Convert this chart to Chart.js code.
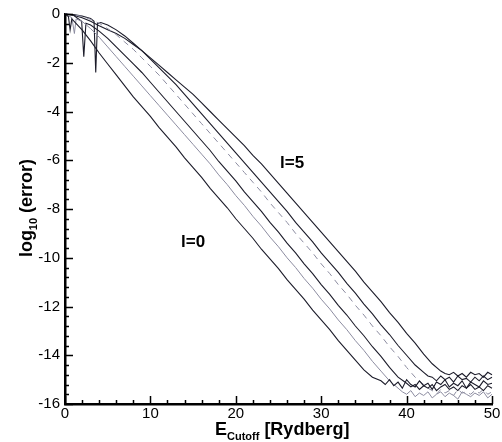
<!DOCTYPE html>
<html>
<head>
<meta charset="utf-8">
<script src="https://cdn.jsdelivr.net/npm/chart.js@4.4.1/dist/chart.umd.min.js"></script>
<style>
  html, body { margin: 0; padding: 0; background: #fff; }
  #wrap { width: 502px; height: 442px; }
</style>
</head>
<body>
<div id="wrap"><canvas id="errChart" width="502" height="442"></canvas></div>
<script>
// error curves, one per angular momentum l: [E_cutoff, log10(error)]
const curveL0 = [[0,0],[0.4,-0.1],[0.6,-0.65],[0.8,-0.2],[2,-0.65],[3,-1.1],[4,-1.6],[5,-2.05],[6,-2.5],[7,-2.95],[8,-3.4],[9,-3.8],[10,-4.2],[11,-4.65],[12,-5.05],[13,-5.45],[14,-5.9],[15,-6.3],[16,-6.7],[17,-7.15],[18,-7.55],[19,-7.95],[20,-8.4],[21,-8.8],[22,-9.2],[23,-9.65],[24,-10.05],[25,-10.45],[26,-10.9],[27,-11.3],[28,-11.7],[29,-12.15],[30,-12.55],[31,-12.95],[32,-13.4],[33,-13.8],[34,-14.2],[35,-14.6],[36,-14.9],[37,-15.05],
  [37.5,-15.2],[38,-15.0],[38.5,-15.25],[39,-15.1],[39.5,-15.35],[40,-15.0],[40.5,-15.2],[41,-15.3],[41.5,-15.05],[42,-15.25],[42.5,-15.15],[43,-15.4],[43.5,-15.1],[44,-15.2],[44.5,-15.0],[45,-15.3],[45.5,-15.15],[46,-15.25],[46.5,-15.05],[47,-15.35],[47.5,-15.1],[48,-15.2],[48.5,-15.3],[49,-15.05],[49.5,-15.2],[50,-15.15]];
const curveL1 = [[0,0],[0.8,-0.15],[1.1,-0.8],[1.3,-0.2],[2,-0.3],[3,-0.6],[4,-0.95],[5,-1.35],[6,-1.75],[7,-2.15],[8,-2.55],[9,-2.95],[10,-3.35],[11,-3.75],[12,-4.15],[13,-4.55],[14,-4.95],[15,-5.35],[16,-5.75],[17,-6.15],[18,-6.6],[19,-7.0],[20,-7.45],[21,-7.85],[22,-8.3],[23,-8.7],[24,-9.15],[25,-9.55],[26,-10.0],[27,-10.4],[28,-10.85],[29,-11.25],[30,-11.7],[31,-12.1],[32,-12.55],[33,-12.95],[34,-13.4],[35,-13.8],[36,-14.25],[37,-14.65],[38,-15.05],[39,-15.35],[39.5,-15.5],[40,-15.6],
  [40.5,-15.45],[41,-15.7],[41.5,-15.55],[42,-15.65],[42.5,-15.5],[43,-15.75],[43.5,-15.6],[44,-15.5],[44.5,-15.7],[45,-15.55],[45.5,-15.65],[46,-15.8],[46.5,-15.5],[47,-15.6],[47.5,-15.7],[48,-15.55],[48.5,-15.65],[49,-15.5],[49.5,-15.75],[50,-15.6]];
const curveL2 = [[0,0],[1,-0.05],[1.95,-0.3],[2.2,-1.75],[2.45,-0.38],[3,-0.45],[4,-0.7],[5,-1.0],[6,-1.35],[7,-1.7],[8,-2.05],[9,-2.4],[10,-2.8],[11,-3.2],[12,-3.6],[13,-4.0],[14,-4.4],[15,-4.8],[16,-5.2],[17,-5.6],[18,-6.05],[19,-6.45],[20,-6.85],[21,-7.3],[22,-7.7],[23,-8.1],[24,-8.55],[25,-8.95],[26,-9.4],[27,-9.8],[28,-10.25],[29,-10.65],[30,-11.1],[31,-11.5],[32,-11.95],[33,-12.35],[34,-12.8],[35,-13.2],[36,-13.65],[37,-14.05],[38,-14.5],[39,-14.9],[40,-15.15],[40.5,-15.3],[41,-15.2],
  [41.5,-15.4],[42,-15.25],[42.5,-15.35],[43,-15.2],[43.5,-15.45],[44,-15.3],[44.5,-15.2],[45,-15.4],[45.5,-15.3],[46,-15.45],[46.5,-15.25],[47,-15.35],[47.5,-15.2],[48,-15.4],[48.5,-15.3],[49,-15.45],[49.5,-15.25],[50,-15.35]];
const curveL3 = [[0,0],[1,-0.03],[2,-0.1],[3,-0.22],[4,-0.38],[5,-0.6],[6,-0.85],[7,-1.15],[8,-1.45],[9,-1.8],[10,-2.15],[11,-2.5],[12,-2.9],[13,-3.3],[14,-3.7],[15,-4.1],[16,-4.5],[17,-4.9],[18,-5.3],[19,-5.7],[20,-6.1],[21,-6.5],[22,-6.9],[23,-7.3],[24,-7.75],[25,-8.15],[26,-8.55],[27,-9.0],[28,-9.4],[29,-9.8],[30,-10.25],[31,-10.65],[32,-11.1],[33,-11.5],[34,-11.95],[35,-12.35],[36,-12.8],[37,-13.2],[38,-13.65],[39,-14.05],[40,-14.5],[41,-14.9],[42,-15.2],[42.5,-15.35],[43,-15.45],
  [43.5,-15.6],[44,-15.4],[44.5,-15.55],[45,-15.45],[45.5,-15.65],[46,-15.4],[46.5,-15.55],[47,-15.5],[47.5,-15.6],[48,-15.45],[48.5,-15.55],[49,-15.4],[49.5,-15.6],[50,-15.5]];
const curveL4 = [[0,0],[1,-0.02],[2,-0.08],[3,-0.18],[3.4,-0.3],[3.6,-2.4],[3.8,-0.4],[4.2,-0.35],[5,-0.45],[6,-0.65],[7,-0.9],[8,-1.2],[9,-1.5],[10,-1.85],[11,-2.2],[12,-2.55],[13,-2.9],[14,-3.3],[15,-3.7],[16,-4.1],[17,-4.5],[18,-4.9],[19,-5.3],[20,-5.7],[21,-6.1],[22,-6.5],[23,-6.9],[24,-7.3],[25,-7.7],[26,-8.1],[27,-8.55],[28,-8.95],[29,-9.35],[30,-9.8],[31,-10.2],[32,-10.6],[33,-11.05],[34,-11.45],[35,-11.9],[36,-12.3],[37,-12.75],[38,-13.15],[39,-13.6],[40,-14.0],[41,-14.4],[42,-14.7],[42.5,-14.85],[43,-14.9],
  [43.5,-15.05],[44,-14.85],[44.5,-15.0],[45,-14.9],[45.5,-15.1],[46,-14.85],[46.5,-15.0],[47,-14.95],[47.5,-15.1],[48,-14.9],[48.5,-15.05],[49,-14.85],[49.5,-15.0],[50,-14.9]];
const curveL5 = [[0,0],[1,-0.05],[2,-0.15],[3,-0.3],[4,-0.48],[5,-0.65],[6,-0.8],[7,-1.0],[8,-1.25],[9,-1.5],[10,-1.8],[11,-2.1],[12,-2.4],[13,-2.7],[14,-3.0],[15,-3.3],[16,-3.65],[17,-4.0],[18,-4.35],[19,-4.7],[20,-5.05],[21,-5.4],[22,-5.8],[23,-6.15],[24,-6.55],[25,-6.95],[26,-7.35],[27,-7.75],[28,-8.15],[29,-8.55],[30,-8.95],[31,-9.35],[32,-9.75],[33,-10.15],[34,-10.55],[35,-11.0],[36,-11.4],[37,-11.8],[38,-12.25],[39,-12.65],[40,-13.1],[41,-13.5],[42,-13.95],[43,-14.35],[44,-14.65],[44.5,-14.75],[45,-14.8],
  [45.5,-14.7],[46,-14.85],[46.5,-14.75],[47,-14.9],[47.5,-14.7],[48,-14.8],[48.5,-14.75],[49,-14.9],[49.5,-14.7],[50,-14.8]];

const xRange = [0, 50];
const yRange = [-16, 0];
const xMajorStep = 10, xMinorStep = 2;
const yMajorStep = 2, yMinorStep = 0.4;

const dark = '#1c1c2a';
const grey = '#8c8ca0';

function series(pairs, color, width, dash) {
    return {
        data: pairs.map(p => ({ x: p[0], y: p[1] })),
        borderColor: color,
        borderWidth: width,
        borderDash: dash || [],
        pointRadius: 0,
        tension: 0,
        fill: false,
        clip: 6
    };
}

// inward ticks, axis titles and curve labels
const extras = {
    id: 'extras',
    afterDraw(chart) {
        const ctx = chart.ctx;
        const xs = chart.scales.x, ys = chart.scales.y;
        const left = chart.chartArea.left, bottom = chart.chartArea.bottom;
        ctx.save();
        ctx.strokeStyle = '#000';
        ctx.lineWidth = 1.5;
        ctx.beginPath();
        for (let v = xRange[0]; v <= xRange[1] + 1e-6; v += xMinorStep) {
            const px = Math.round(xs.getPixelForValue(v)) + 0.5;
            const len = Math.abs(v % xMajorStep) < 1e-6 ? 8 : 4;
            ctx.moveTo(px, bottom);
            ctx.lineTo(px, bottom - len);
        }
        for (let i = 0; i * yMinorStep <= yRange[1] - yRange[0] + 1e-6; i++) {
            const v = yRange[1] - i * yMinorStep;
            const py = Math.round(ys.getPixelForValue(v)) + 0.5;
            const r = Math.abs(v / yMajorStep - Math.round(v / yMajorStep));
            const len = r < 1e-6 ? 8 : 4;
            ctx.moveTo(left, py);
            ctx.lineTo(left + len, py);
        }
        ctx.stroke();

        ctx.fillStyle = '#000';
        ctx.textBaseline = 'alphabetic';
        const big = 'bold 18px "Liberation Sans", Arial, sans-serif';
        const sub = 'bold 11px "Liberation Sans", Arial, sans-serif';

        // x title: E_Cutoff [Rydberg]
        let x = 215;
        ctx.font = big; ctx.fillText('E', x, 435); x += ctx.measureText('E').width;
        ctx.font = sub; ctx.fillText('Cutoff', x, 440); x += ctx.measureText('Cutoff').width;
        ctx.font = big; ctx.fillText(' [Rydberg]', x, 435);

        // y title: log10 (error)
        ctx.save();
        ctx.translate(32, 208);
        ctx.rotate(-Math.PI / 2);
        ctx.font = big; const w1 = ctx.measureText('log').width; const w3 = ctx.measureText(' (error)').width;
        ctx.font = sub; const w2 = ctx.measureText('10').width;
        let t = -(w1 + w2 + w3) / 2;
        ctx.font = big; ctx.fillText('log', t, 0); t += w1;
        ctx.font = sub; ctx.fillText('10', t, 5); t += w2;
        ctx.font = big; ctx.fillText(' (error)', t, 0);
        ctx.restore();

        ctx.font = 'bold 17px "Liberation Sans", Arial, sans-serif';
        ctx.fillText('l=0', 181, 247);
        ctx.fillText('l=5', 280, 168);
        ctx.restore();
    }
};

const ctx = document.getElementById('errChart').getContext('2d');
const errChart = new Chart(ctx, {
    type: 'line',
    data: {
        datasets: [
            series(curveL0, dark, 1.1),
            series(curveL1, grey, 1),
            series(curveL2, dark, 1.1),
            series(curveL3, grey, 1, [6, 5]),
            series(curveL4, dark, 1.1),
            series(curveL5, dark, 1.1)
        ]
    },
    options: {
        responsive: false,
        animation: false,
        layout: { padding: { left: 0, right: 10, top: 14, bottom: 0 } },
        plugins: { legend: { display: false }, tooltip: { enabled: false } },
        scales: {
            x: {
                type: 'linear',
                min: xRange[0], max: xRange[1],
                ticks: { stepSize: xMajorStep, padding: 1, color: '#000',
                         font: { family: '"Liberation Sans", Arial, sans-serif', size: 15 } },
                grid: { drawOnChartArea: false, drawTicks: false },
                border: { display: true, color: '#000', width: 2.5 },
                afterFit(s) { s.height = 38; }
            },
            y: {
                type: 'linear',
                min: yRange[0], max: yRange[1],
                ticks: { stepSize: yMajorStep, padding: 5, color: '#000',
                         font: { family: '"Liberation Sans", Arial, sans-serif', size: 15 } },
                grid: { drawOnChartArea: false, drawTicks: false },
                border: { display: true, color: '#000', width: 2.5 },
                afterFit(s) { s.width = 65; }
            }
        }
    },
    plugins: [extras]
});
</script>
</body>
</html>
